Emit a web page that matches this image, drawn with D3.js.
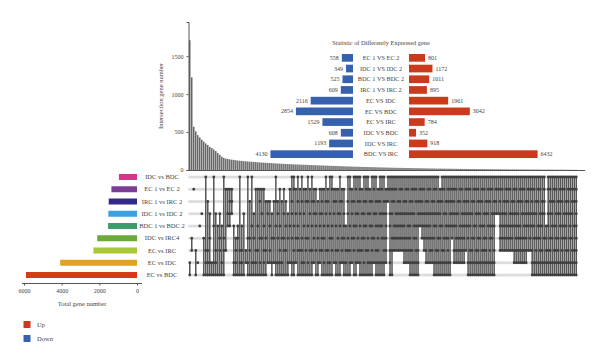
<!DOCTYPE html>
<html>
<head>
<meta charset="utf-8">
<script src="https://cdn.jsdelivr.net/npm/d3@7"></script>
<style>
	body { margin: 0; background: #fff; }
	text { font-family: "Liberation Serif", "DejaVu Serif", serif; fill: #444; }
</style>
</head>
<body>
<div id="chart"></div>
<script>
// sets, bottom row = largest
var setNames = ["IDC vs BDC", "EC 1 vs EC 2", "IRC 1 vs IRC 2", "IDC 1 vs IDC 2", "BDC 1 vs BDC 2",
	"IDC vs IRC4", "EC vs IRC", "EC vs IDC", "EC vs BDC"]
var setSizes = [960, 1359, 1504, 1521, 1536, 2111, 2313, 4077, 5896]

// intersections: digits = rows (1 = top row) in the combination
var combos = [
	"89", "67", "2", "79", "8", "5", "4", "69", "1789", "3789",
	"4689", "89", "1589", "4789", "59", "4679", "589", "1679", "27", "245",
	"2345", "234", "589", "6789", "569", "1789", "5789", "49", "78", "1689",
	"3679", "1589", "4689", "2789", "2579", "23689", "2469", "25789", "3679", "348",
	"3578", "4689", "368", "13589", "34689", "25789", "3689", "24679", "3579", "4689",
	"258", "134689", "125789", "2468", "135679", "2479", "136789", "24589", "23679", "135689",
	"2479", "135789", "23468", "24579", "3689", "24578", "234679", "25689", "13479", "235789",
	"14689", "125679", "2348", "235789", "24679", "134589", "23678", "245689", "5789", "134679",
	"125789", "23468", "135679", "124589", "134678", "1235789", "24679", "1345689", "123579", "1246789",
	"234589", "1356789", "12468", "1345789", "2356789", "1234589", "1245689", "1346789", "2345678", "123",
	"1245789", "1234679", "123567", "124567", "134567", "1234567", "124567", "1345678", "1234678", "1245678",
	"13456789", "1234789", "1245689", "12356789", "1345789", "12345", "123456", "124567", "1345678", "1234568",
	"1245678", "134678", "12345689", "1245789", "1346789", "2345689", "1235789", "1246789", "1345689", "12356789",
	"1234589", "123456", "1234578", "1245678", "134678", "1235678", "1245678", "1345678", "123457", "12345689",
	"1245789", "1346789", "1235689", "1245789", "12346789", "1345689", "1235789", "12456789", "1346789", "1234589",
	"12356789", "1245689", "1345789", "1234", "124", "1234567", "124567", "134567", "1234567", "123567",
	"124567", "134567", "1234578", "1245678", "1345678", "1235678", "1234678", "1245678", "1345678", "123457",
	"124567", "12345789", "1245689", "1346789", "1235689", "12456789", "1345789", "1234689", "56789", "1245789",
	"12346789", "1345689", "1235789", "12456789", "1346789", "1234589", "12356789", "1245689", "13456789", "1234789",
	"1245689", "12346789", "1235789", "123456789"
]
var comboSizes = [
	1710, 1220, 570, 510, 460, 430, 400, 375, 350, 330,
	305, 290, 270, 250, 225, 200, 175, 160, 150, 145,
	140, 136, 132, 128, 125, 122, 120, 117, 115, 112,
	110, 108, 106, 104, 102, 100, 98, 96, 95, 93,
	91, 90, 88, 87, 85, 84, 82, 81, 80, 78,
	77, 76, 74, 73, 72, 71, 70, 69, 68, 67,
	66, 65, 64, 63, 62, 61, 60, 59, 58, 57,
	56, 55, 54, 53, 52, 51, 50, 49, 48, 47,
	46, 45, 44, 44, 43, 42, 41, 41, 40, 39,
	38, 38, 37, 36, 35, 35, 34, 33, 33, 32,
	31, 31, 30, 29, 29, 28, 28, 27, 27, 26,
	26, 25, 25, 24, 24, 23, 23, 22, 22, 21,
	21, 20, 20, 19, 19, 19, 18, 18, 17, 17,
	17, 16, 16, 16, 15, 15, 15, 14, 14, 14,
	13, 13, 13, 12, 12, 12, 12, 11, 11, 11,
	11, 10, 10, 10, 10, 9, 9, 9, 9, 9,
	8, 8, 8, 8, 8, 7, 7, 7, 7, 7,
	6, 6, 6, 6, 6, 6, 5, 5, 5, 5,
	5, 5, 4, 4, 4, 4, 4, 4, 3, 3,
	3, 3, 2, 2
]

// inset: differently expressed genes
var degNames = ["EC 1 VS EC 2", "IDC 1 VS IDC 2", "BDC 1 VS BDC 2", "IRC 1 VS IRC 2", "EC VS IDC",
	"EC VS BDC", "EC VS IRC", "IDC VS BDC", "IDC VS IRC", "BDC VS IRC"]
var degDown = [558, 349, 525, 609, 2116, 2854, 1529, 608, 1193, 4130]
var degUp = [801, 1172, 1011, 895, 1961, 3042, 784, 352, 918, 6432]

var setColors = ["#d6358c", "#7c3f98", "#33298b", "#3ba0e0", "#3e9c6c", "#6aab3a", "#a8c83a", "#e0a220", "#d23c1c"]
var upColor = "#cc3a1e", downColor = "#3561ae"

var width = 600, height = 363
var svg = d3.select("#chart").append("svg")
	.attr("width", width)
	.attr("height", height)

// scales
var xCol = d3.scaleBand().domain(d3.range(combos.length)).range([189, 577]).paddingInner(0.25)
var yBar = d3.scaleLinear().domain([0, 1950]).range([170, 22])
var yRow = d3.scalePoint().domain(setNames).range([177, 275])
var xTot = d3.scaleLinear().domain([0, 6000]).range([137, 24])

// intersection bars
svg.append("g").selectAll("rect")
	.data(comboSizes)
	.enter().append("rect")
	.attr("x", function (d, i) { return xCol(i); })
	.attr("width", xCol.bandwidth())
	.attr("y", function (d) { return yBar(d); })
	.attr("height", function (d) { return yBar(0) - yBar(d); })
	.attr("fill", "#666")

var yAxis = svg.append("g")
	.attr("transform", "translate(188.5,0)")
	.call(d3.axisLeft(yBar).tickValues([0, 500, 1000, 1500]).tickFormat(d3.format("d")).tickSize(2).tickPadding(3))
yAxis.select(".domain").attr("stroke", "#555")
yAxis.selectAll("line").attr("stroke", "#555")
yAxis.selectAll("text").style("font-size", "6px").style("font-family", "Liberation Serif").attr("fill", "#444")

svg.append("line")
	.attr("x1", 188.5).attr("x2", 585).attr("y1", 170.5).attr("y2", 170.5)
	.attr("stroke", "#555").attr("stroke-width", 1)

svg.append("text")
	.attr("transform", "translate(163,96) rotate(-90)")
	.attr("text-anchor", "middle")
	.style("font-size", "6.5px")
	.text("Intersection gene number")

// matrix background dots
var matrix = svg.append("g")
combos.forEach(function (c, i) {
	var cx = xCol(i) + xCol.bandwidth() / 2
	var rows = c.split("").map(function (r) { return +r - 1; })
	setNames.forEach(function (s, j) {
		if (rows.indexOf(j) < 0) {
			matrix.append("circle").attr("cx", cx).attr("cy", yRow(s)).attr("r", 1.5).attr("fill", "#dcdcdc")
		}
	})
})
combos.forEach(function (c, i) {
	var cx = xCol(i) + xCol.bandwidth() / 2
	var rows = c.split("").map(function (r) { return +r - 1; })
	var top = d3.min(rows), bot = d3.max(rows)
	if (bot > top) {
		matrix.append("line")
			.attr("x1", cx).attr("x2", cx)
			.attr("y1", yRow(setNames[top])).attr("y2", yRow(setNames[bot]))
			.attr("stroke", "#555").attr("stroke-width", 1.5)
	}
	rows.forEach(function (j) {
		matrix.append("circle").attr("cx", cx).attr("cy", yRow(setNames[j])).attr("r", 1.4).attr("fill", "#3f3f3f")
	})
})

// set labels
svg.append("g").selectAll("text")
	.data(setNames)
	.enter().append("text")
	.attr("x", 162)
	.attr("y", function (d) { return yRow(d) + 2; })
	.attr("text-anchor", "middle")
	.style("font-size", "6.5px")
	.text(function (d) { return d; })

// set size bars
svg.append("g").selectAll("rect")
	.data(setSizes)
	.enter().append("rect")
	.attr("x", function (d) { return xTot(d); })
	.attr("y", function (d, i) { return yRow(setNames[i]) - 3; })
	.attr("width", function (d) { return xTot(0) - xTot(d); })
	.attr("height", 6)
	.attr("fill", function (d, i) { return setColors[i]; })

var totAxis = svg.append("g")
	.attr("transform", "translate(0,283.5)")
	.call(d3.axisBottom(xTot).tickValues([6000, 4000, 2000, 0]).tickFormat(d3.format("d")).tickSize(2).tickPadding(3))
totAxis.select(".domain").attr("d", "M22,0H142").attr("stroke", "#555")
totAxis.selectAll("line").attr("stroke", "#555")
totAxis.selectAll("text").style("font-size", "6px").style("font-family", "Liberation Serif").attr("fill", "#444")

svg.append("text")
	.attr("x", 82).attr("y", 306)
	.attr("text-anchor", "middle")
	.style("font-size", "6.5px")
	.text("Total gene number")

// legend
var legend = [["Up", upColor], ["Down", downColor]]
legend.forEach(function (d, i) {
	svg.append("rect").attr("x", 23.5).attr("y", 321 + i * 14).attr("width", 7).attr("height", 7).attr("fill", d[1])
	svg.append("text").attr("x", 37).attr("y", 327 + i * 14).style("font-size", "6.5px").text(d[0])
})

// inset chart
var yDeg = d3.scaleBand().domain(degNames).range([54, 158]).paddingInner(0.28)
var xDown = d3.scaleLinear().domain([0, 6432]).range([353, 224.4])
var xUp = d3.scaleLinear().domain([0, 6432]).range([409, 537.6])
var inset = svg.append("g")

inset.append("text")
	.attr("x", 381).attr("y", 45)
	.attr("text-anchor", "middle")
	.style("font-size", "6.3px")
	.text("Statistic of Differently Expressed gene")

inset.selectAll(".down")
	.data(degDown)
	.enter().append("rect")
	.attr("class", "down")
	.attr("x", function (d) { return xDown(d); })
	.attr("y", function (d, i) { return yDeg(degNames[i]); })
	.attr("width", function (d) { return xDown(0) - xDown(d); })
	.attr("height", yDeg.bandwidth())
	.attr("fill", downColor)

inset.selectAll(".up")
	.data(degUp)
	.enter().append("rect")
	.attr("class", "up")
	.attr("x", xUp(0))
	.attr("y", function (d, i) { return yDeg(degNames[i]); })
	.attr("width", function (d) { return xUp(d) - xUp(0); })
	.attr("height", yDeg.bandwidth())
	.attr("fill", upColor)

inset.selectAll(".downlab")
	.data(degDown)
	.enter().append("text")
	.attr("x", function (d) { return xDown(d) - 3; })
	.attr("y", function (d, i) { return yDeg(degNames[i]) + yDeg.bandwidth() / 2 + 2; })
	.attr("text-anchor", "end")
	.style("font-size", "6px")
	.text(function (d) { return d; })

inset.selectAll(".uplab")
	.data(degUp)
	.enter().append("text")
	.attr("x", function (d) { return xUp(d) + 3; })
	.attr("y", function (d, i) { return yDeg(degNames[i]) + yDeg.bandwidth() / 2 + 2; })
	.style("font-size", "6px")
	.text(function (d) { return d; })

inset.selectAll(".name")
	.data(degNames)
	.enter().append("text")
	.attr("x", 381)
	.attr("y", function (d) { return yDeg(d) + yDeg.bandwidth() / 2 + 2.2; })
	.attr("text-anchor", "middle")
	.style("font-size", "6.3px")
	.text(function (d) { return d; })
</script>
</body>
</html>
